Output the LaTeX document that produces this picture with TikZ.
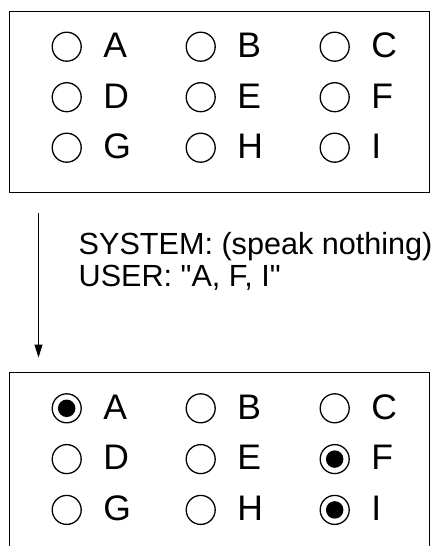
\documentclass[tikz,border=0pt]{standalone}
\usepackage{fontspec}
\setmainfont{Liberation Sans}[Ligatures=TeXOff]
\usetikzlibrary{arrows.meta}
\begin{document}
\begin{tikzpicture}[x=1pt,y=-1pt,
  panel/.style={draw,line width=1.3pt,minimum width=420pt,minimum height=181pt,
    anchor=north west,inner sep=0pt},
  radio/.style={draw,circle,line width=1.3pt,minimum size=29pt,inner sep=0pt},
  dot/.style={fill=black,circle,minimum size=17.5pt,inner sep=0pt},
  opt/.style={anchor=base west,inner sep=0pt,font=\fontsize{35.5}{42}\selectfont},
  say/.style={anchor=base west,inner sep=0pt,font=\fontsize{30.6}{36}\selectfont},
  flow/.style={line width=1.1pt,-{Triangle[width=8pt,length=13pt]}}]
\clip (0,0) rectangle (438,546);
\useasboundingbox (0,0) rectangle (438,546);

% state before the utterance
\node[panel] (before) at (9,10.5) {};
% state after the utterance (lower edge runs off the page)
\node[panel] (after) at (9,372) {};

% option grids
\foreach \name/\col/\row in {A/0/0,B/1/0,C/2/0,D/0/1,E/1/1,F/2/1,G/0/2,H/1/2,I/2/2}{
  \pgfmathsetmacro{\cx}{66.7+134*\col}
  \pgfmathsetmacro{\cyb}{46.7+50.5*\row}
  \pgfmathsetmacro{\cya}{408.3+50.8*\row}
  \node[radio] (b\name) at (\cx,\cyb) {};
  \node[opt] (lb\name) at (\cx+36.5,\cyb+10.8) {\name};
  \node[radio] (a\name) at (\cx,\cya) {};
  \node[opt] (la\name) at (\cx+36.5,\cya+10.8) {\name};
}

% selected options after the utterance
\foreach \name in {A,F,I}{
  \node[dot] (d\name) at (a\name.center) {};
}

% transition arrow and dialogue turn
\coordinate (from) at (38.5,213);
\coordinate (to) at (38.5,357.5);
\draw[flow] (from) -- (to);
\node[say] (sys) at (78.5,254) {SYSTEM: (speak nothing)};
\node[say] (usr) at (78.5,286.7) {USER: "A, F, I"};
\end{tikzpicture}
\end{document}
